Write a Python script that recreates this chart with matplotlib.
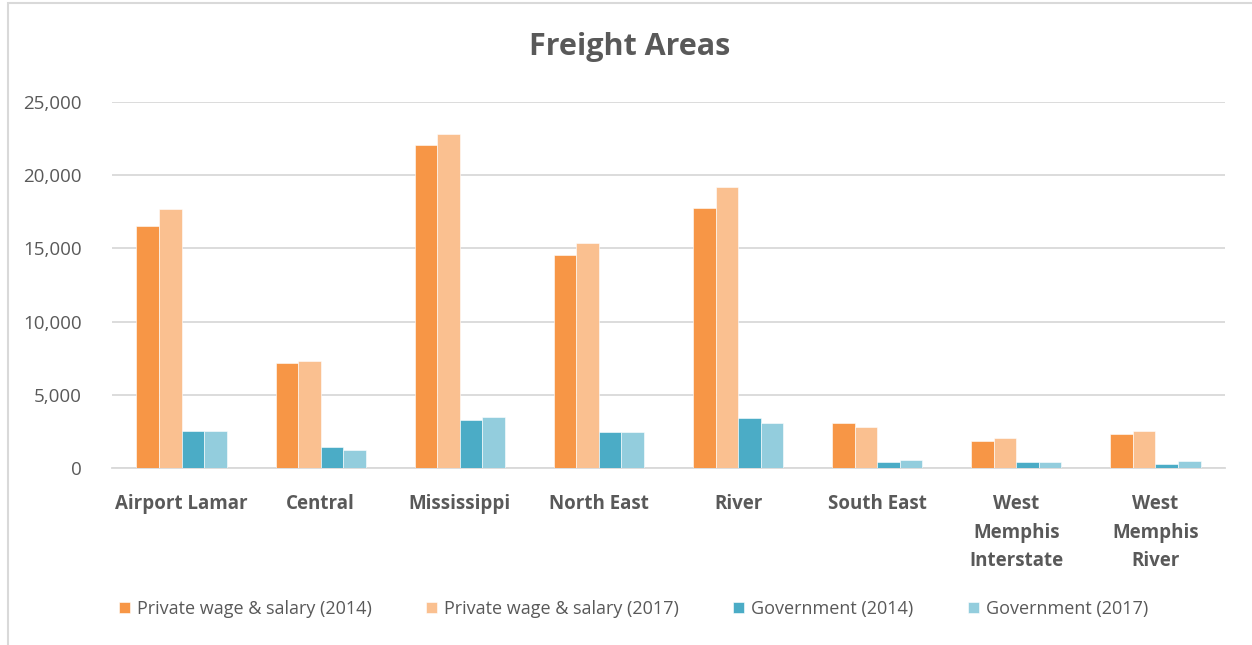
import matplotlib
matplotlib.use("Agg")
import matplotlib.pyplot as plt
import numpy as np
from matplotlib.patches import Rectangle
from matplotlib.ticker import FuncFormatter

# ── data ────────────────────────────────────────────
areas = ["Airport Lamar", "Central", "Mississippi", "North East", "River",
         "South East", "West\nMemphis\nInterstate", "West\nMemphis\nRiver"]
private_2014 = [16500, 7150, 22050, 14530, 17740, 3100, 1830, 2350]
private_2017 = [17710, 7290, 22820, 15350, 19170, 2830, 2060, 2560]
gov_2014 = [2550, 1430, 3280, 2440, 3420, 430, 410, 280]
gov_2017 = [2550, 1250, 3460, 2440, 3050, 520, 430, 460]

series = [
    ("Private wage & salary (2014)", private_2014, "#F79646"),
    ("Private wage & salary (2017)", private_2017, "#FAC090"),
    ("Government (2014)", gov_2014, "#4BACC6"),
    ("Government (2017)", gov_2017, "#93CDDD"),
]

TEXT = "#595959"
plt.rcParams["font.family"] = ["Open Sans", "DejaVu Sans"]

fig = plt.figure(figsize=(12.52, 6.45), dpi=100)
fig.patch.set_facecolor("white")
ax = fig.add_axes([112 / 1252, 1 - 468 / 645, 1113 / 1252, 366 / 645])

x = np.arange(len(areas))
bw = 0.162
for i, (label, vals, color) in enumerate(series):
    ax.bar(x + (i - 1.5) * bw, vals, width=bw, color=color,
           edgecolor="white", linewidth=0.4, label=label, zorder=3)

ax.set_xlim(-0.5, len(areas) - 0.5)
ax.set_ylim(0, 25000)
ax.set_yticks(np.arange(0, 25001, 5000))
ax.yaxis.set_major_formatter(FuncFormatter(lambda v, _: f"{int(v):,}"))
ax.grid(axis="y", color="#D9D9D9", linewidth=1.3, zorder=0)
for s in ["top", "right", "left"]:
    ax.spines[s].set_visible(False)
ax.spines["bottom"].set_color("#D9D9D9")
ax.spines["bottom"].set_linewidth(1.3)
ax.tick_params(axis="both", length=0)
ax.tick_params(axis="y", labelsize=13.5, labelcolor=TEXT, pad=22)
ax.set_xticks(x)
ax.set_xticklabels(areas, fontsize=13.5, fontweight="bold", color=TEXT,
                   linespacing=1.55)
ax.tick_params(axis="x", pad=19)

fig.text(0.503, 1 - 47 / 645, "Freight Areas", ha="center", va="center",
         fontsize=22, fontweight="bold", color=TEXT)

leg = fig.legend(loc="center", bbox_to_anchor=(0.506, 1 - 609 / 645), ncol=4,
                 frameon=False, fontsize=13, handlelength=0.6, handleheight=0.6,
                 handletextpad=0.4, columnspacing=3.0)
for t in leg.get_texts():
    t.set_color(TEXT)

# outer chart border
fig.patches.append(Rectangle((8 / 1252, -0.05), 1.1, 1 - 3 / 645 + 0.05,
                             transform=fig.transFigure, fill=False,
                             edgecolor="#D9D9D9", linewidth=1.5))

fig.savefig("out.png", dpi=100)
